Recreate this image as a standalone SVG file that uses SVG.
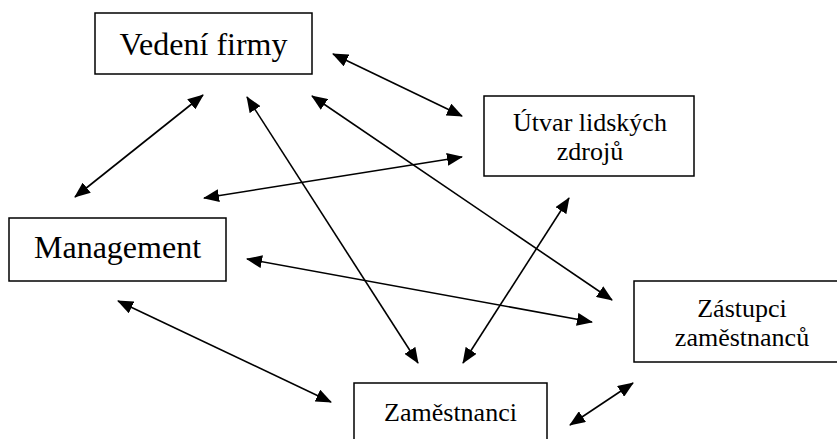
<svg xmlns="http://www.w3.org/2000/svg" width="837" height="439" viewBox="0 0 837 439">
<style>
.box{fill:#fff;stroke:#000;stroke-width:1.5}
.t{font-family:"Liberation Serif","Times New Roman",serif;fill:#000;text-anchor:middle}
.big{font-size:32px}
.mid{font-size:26px}
.c{stroke:#000;stroke-width:1.6;fill:none;marker-start:url(#ah);marker-end:url(#ah)}
</style>
<defs>
<marker id="ah" markerUnits="userSpaceOnUse" markerWidth="16" markerHeight="13" refX="15" refY="6.5" orient="auto-start-reverse" viewBox="0 0 16 13">
<path d="M0,0 L16,6.5 L0,13 z" fill="#000"/>
</marker>
</defs>
<rect width="837" height="439" fill="#fff"/>
<g id="connectors">
<line class="c" x1="333" y1="54" x2="462" y2="116"/>
<line class="c" x1="203" y1="95" x2="75" y2="197"/>
<line class="c" x1="247" y1="97" x2="418" y2="363"/>
<line class="c" x1="312" y1="96" x2="612" y2="300"/>
<line class="c" x1="204" y1="198" x2="462" y2="157"/>
<line class="c" x1="247" y1="259" x2="592" y2="322"/>
<line class="c" x1="118" y1="301" x2="331" y2="402"/>
<line class="c" x1="569" y1="198" x2="463" y2="363"/>
<line class="c" x1="633" y1="383" x2="570" y2="425"/>
</g>
<g id="vedeni">
<rect class="box" x="95" y="13" width="217" height="61"/>
<text class="t big" x="203.5" y="55">Vedení firmy</text>
</g>
<g id="utvar">
<rect class="box" x="484" y="96" width="210" height="80"/>
<text class="t mid" x="590" y="131">Útvar lidských</text>
<text class="t mid" x="590" y="160">zdrojů</text>
</g>
<g id="management">
<rect class="box" x="9" y="218" width="217" height="63"/>
<text class="t big" x="117.5" y="258">Management</text>
</g>
<g id="zastupci">
<rect class="box" x="634" y="281" width="216" height="81"/>
<text class="t mid" x="742" y="317">Zástupci</text>
<text class="t mid" x="742" y="346">zaměstnanců</text>
</g>
<g id="zamestnanci">
<rect class="box" x="354" y="383" width="193" height="70"/>
<text class="t mid" x="450.5" y="421">Zaměstnanci</text>
</g>
</svg>
